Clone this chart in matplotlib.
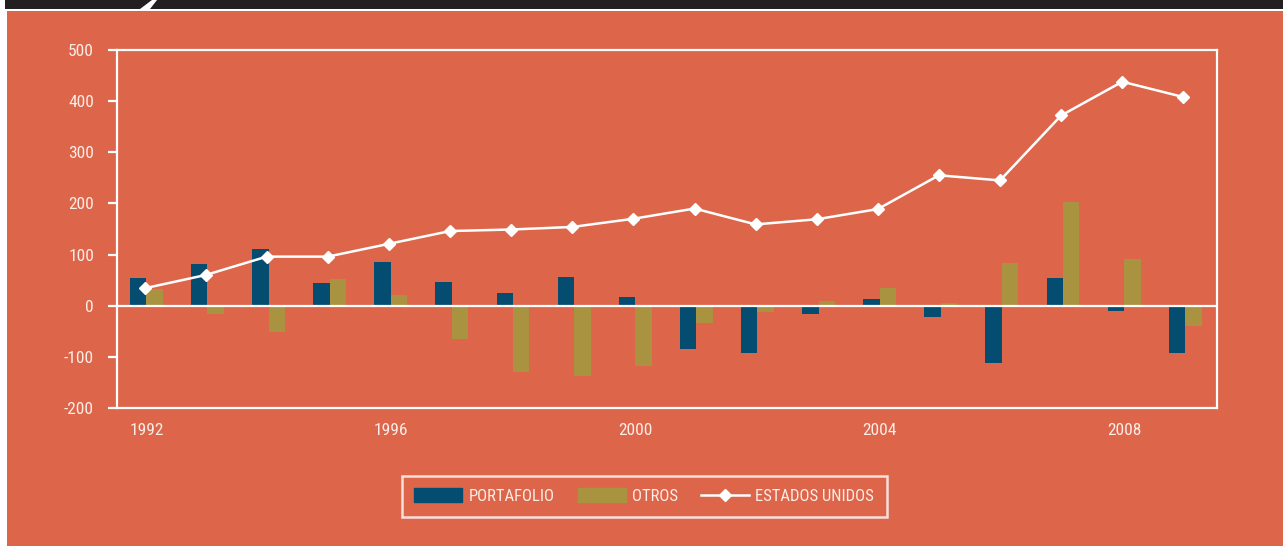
import matplotlib
matplotlib.use("Agg")
import matplotlib.pyplot as plt
import matplotlib.patches as mpatches
from matplotlib.lines import Line2D
import numpy as np

# data
years = list(range(1992, 2010))
portafolio = [54, 81, 110, 44, 85, 46, 24, 56, 17, -85, -93, -17, 13, -22, -112, 54, -10, -93]
otros = [32, -17, -52, 52, 21, -65, -130, -138, -118, -34, -13, 10, 34, 6, 83, 202, 91, -40]
estados_unidos = [34, 60, 96, 96, 121, 146, 149, 154, 170, 190, 159, 169, 189, 255, 245, 372, 438, 408]
xtick_years = [1992, 1996, 2000, 2004, 2008]
yticks = [-200, -100, 0, 100, 200, 300, 400, 500]

BG = '#DD654A'
BLUE = '#044D71'
OLIVE = '#AA9340'
TXT = '#FBEDE8'
FONT = ['Roboto Condensed', 'Liberation Sans Narrow', 'Open Sans Condensed', 'Roboto', 'DejaVu Sans']
plt.rcParams['font.family'] = FONT
plt.rcParams['font.stretch'] = 'condensed'
plt.rcParams['axes.unicode_minus'] = False

W, H = 1283, 546
fig = plt.figure(figsize=(W / 100, H / 100), dpi=100, facecolor='white')

# background panel + top banner
fig.patches.append(mpatches.Rectangle((7 / W, 0), 1, 1 - 11 / H, transform=fig.transFigure,
                                      facecolor=BG, edgecolor='none', zorder=-5))
fig.patches.append(mpatches.Rectangle((5 / W, 1 - 9 / H), 1, 9 / H, transform=fig.transFigure,
                                      facecolor='#231F20', edgecolor='none', zorder=-5))
fig.patches.append(mpatches.Polygon([(140 / W, 1 - 9 / H), (150 / W, 1 - 9 / H),
                                     (157 / W, 1.0), (152 / W, 1.0)],
                                    closed=True, transform=fig.transFigure,
                                    facecolor='white', edgecolor='none', zorder=-4))

ax = fig.add_axes([117 / W, 1 - 408 / H, 1100 / W, 358 / H])
ax.set_zorder(5)
ax.set_facecolor('none')

x = np.array(years)
bw = 0.27
ax.bar(x - bw / 2, portafolio, width=bw, color=BLUE, zorder=2)
ax.bar(x + bw / 2, otros, width=bw, color=OLIVE, zorder=2)
ax.axhline(0, color='white', lw=1.6, zorder=3)
ax.plot(x - 0.03, estados_unidos, color='white', lw=1.8, marker='D', markersize=6.5, zorder=4)

ax.set_xlim(1991.52, 2009.52)
ax.set_ylim(-200, 500)
ax.set_yticks(yticks)
ax.set_xticks(xtick_years)
for s in ax.spines.values():
    s.set_color('white')
    s.set_linewidth(1.6)
ax.tick_params(axis='y', colors='white', length=6.5, width=1.6, pad=10, labelcolor=TXT, labelsize=12.5)
ax.tick_params(axis='x', length=0, pad=11, labelcolor=TXT, labelsize=12.5)

handles = [mpatches.Patch(color=BLUE, label='PORTAFOLIO'),
           mpatches.Patch(color=OLIVE, label='OTROS'),
           Line2D([], [], color='white', lw=1.8, marker='D', markersize=6.5, label='ESTADOS UNIDOS')]
leg = fig.legend(handles=handles, loc='center', bbox_to_anchor=(0.502, 0.091), ncol=3,
                 frameon=True, fancybox=False, fontsize=12, handlelength=2.9, handleheight=0.9,
                 handletextpad=0.35, columnspacing=1.4, borderpad=0.75, borderaxespad=0)
leg.set_zorder(6)
leg.get_frame().set_facecolor('none')
leg.get_frame().set_edgecolor('white')
leg.get_frame().set_linewidth(1.8)
for t in leg.get_texts():
    t.set_color(TXT)

fig.savefig('out.png', dpi=100, facecolor='white')
